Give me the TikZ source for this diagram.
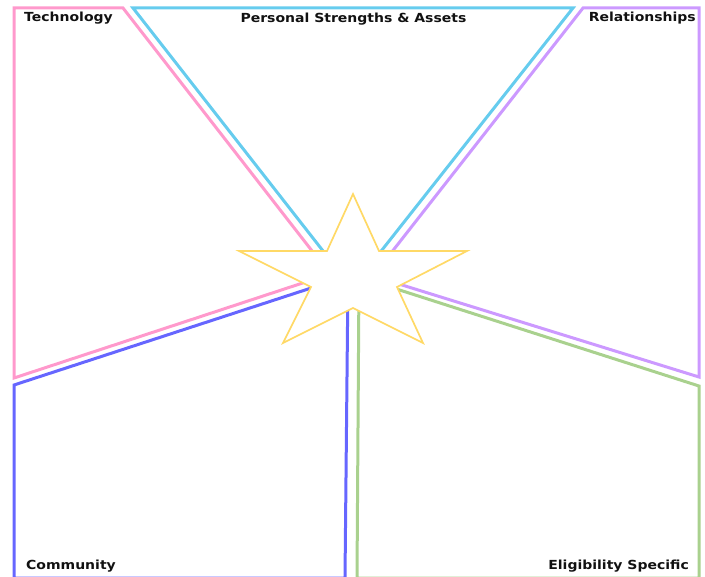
\documentclass[tikz,border=0pt]{standalone}
\usepackage{graphicx}
\usepackage{fontspec}
\setmainfont{DejaVu Sans}
\definecolor{cpink}{HTML}{FF99CC}
\definecolor{ccyan}{HTML}{66CCEE}
\definecolor{cpurple}{HTML}{CC99FF}
\definecolor{cblue}{HTML}{6666FF}
\definecolor{cgreen}{HTML}{A9D18E}
\definecolor{cstar}{HTML}{FFD966}
\definecolor{ctext}{HTML}{111111}
\newcommand{\wide}[1]{\scalebox{1.12}[1]{#1}}
\begin{document}
\begin{tikzpicture}[x=1pt,y=-1pt,
  region/.style={line width=3pt,line join=miter},
  lbl/.style={inner sep=0pt,text=ctext,font=\fontsize{12.5}{15}\selectfont\bfseries}]
\useasboundingbox (0,0) rectangle (705,577);
% Technology
\coordinate (t1) at (14,8); \coordinate (t2) at (123,8);
\coordinate (t3) at (330,274); \coordinate (t4) at (14,378);
\draw[region,cpink] (t1) -- (t2) -- (t3) -- (t4) -- cycle;
% Personal strengths
\coordinate (p1) at (133,8); \coordinate (p2) at (573,8); \coordinate (p3) at (352,288);
\draw[region,ccyan] (p1) -- (p2) -- (p3) -- cycle;
% Relationships
\coordinate (r1) at (583,8); \coordinate (r2) at (699,8);
\coordinate (r3) at (699,377); \coordinate (r4) at (373,276);
\draw[region,cpurple] (r1) -- (r2) -- (r3) -- (r4) -- cycle;
% Community
\coordinate (c1) at (14,385); \coordinate (c2) at (348,276);
\coordinate (c3) at (345,578); \coordinate (c4) at (14,578);
\draw[region,cblue] (c1) -- (c2) -- (c3) -- (c4) -- cycle;
% Eligibility
\coordinate (e1) at (699,386); \coordinate (e2) at (359,277);
\coordinate (e3) at (357,578); \coordinate (e4) at (699,578);
\draw[region,cgreen] (e1) -- (e2) -- (e3) -- (e4) -- cycle;
% Star
\draw[cstar,line width=1.7pt,fill=white,line join=miter]
  (353,194) -- (379,251) -- (467,251) -- (397,287) -- (423,343) -- (353,308)
  -- (283,343) -- (311,287) -- (239,251) -- (327,251) -- cycle;
% Labels
\node[lbl,anchor=base west] (ltech) at (24,22) {\wide{Technology}};
\node[lbl,anchor=base] (lpers) at (353.5,22.5) {\wide{Personal Strengths \& Assets}};
\node[lbl,anchor=base east] (lrel) at (696,22) {\wide{Relationships}};
\node[lbl,anchor=base west] (lcom) at (26,569) {\wide{Community}};
\node[lbl,anchor=base east] (lelig) at (689,569) {\wide{Eligibility Specific}};
\end{tikzpicture}
\end{document}
